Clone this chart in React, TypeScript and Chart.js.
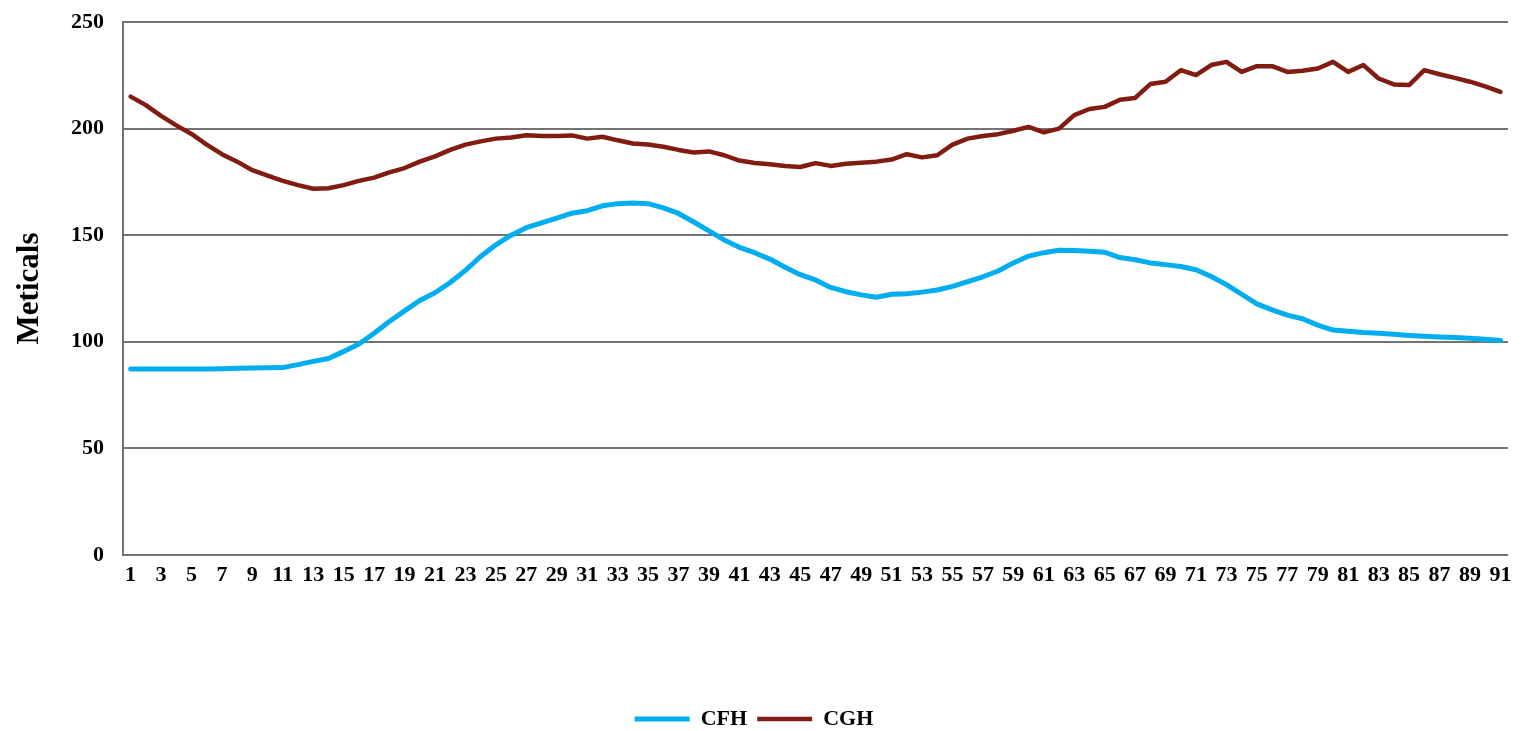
import React, { useEffect, useRef } from "react";
import { Chart, registerables } from "chart.js";

Chart.register(...registerables);

const categories = [
  "1","2","3","4","5","6","7","8","9","10","11","12","13","14","15","16","17","18","19","20",
  "21","22","23","24","25","26","27","28","29","30","31","32","33","34","35","36","37","38","39","40",
  "41","42","43","44","45","46","47","48","49","50","51","52","53","54","55","56","57","58","59","60",
  "61","62","63","64","65","66","67","68","69","70","71","72","73","74","75","76","77","78","79","80",
  "81","82","83","84","85","86","87","88","89","90","91"
];

const cfhValues = [
  87.2, 87.2, 87.2, 87.2, 87.3, 87.3, 87.4, 87.6, 87.7, 87.8,
  87.9, 89.3, 90.8, 92.2, 95.5, 99.0, 104.0, 109.5, 114.5, 119.4,
  123.0, 127.8, 133.5, 140.0, 145.5, 150.0, 153.5, 155.8, 158.0, 160.3,
  161.5, 163.8, 164.8, 165.1, 164.8, 162.8, 160.2, 156.2, 152.0, 147.8,
  144.3, 141.8, 138.8, 135.0, 131.5, 129.0, 125.5, 123.5, 122.0, 120.9,
  122.3, 122.5, 123.3, 124.3, 126.0, 128.2, 130.5, 133.2, 137.0, 140.2,
  141.8, 142.9, 142.8, 142.5, 142.0, 139.5, 138.5, 137.0, 136.2, 135.3,
  133.8, 130.6, 126.8, 122.3, 117.8, 115.0, 112.5, 110.8, 107.8, 105.5,
  105.0, 104.4, 104.0, 103.5, 103.0, 102.6, 102.3, 102.0, 101.7, 101.2,
  100.6
];

const cghValues = [
  215.0, 211.0, 206.0, 201.5, 197.5, 192.5, 188.0, 184.5, 180.5, 178.0,
  175.5, 173.5, 171.8, 172.0, 173.5, 175.5, 177.0, 179.5, 181.5, 184.5,
  187.0, 190.0, 192.5, 194.0, 195.3, 195.8, 196.9, 196.5, 196.5, 196.8,
  195.3, 196.2, 194.5, 193.0, 192.5, 191.5, 190.0, 188.8, 189.3, 187.5,
  185.0, 183.9, 183.3, 182.5, 182.0, 183.8, 182.5, 183.5, 184.0, 184.5,
  185.5, 188.0, 186.5, 187.5, 192.5, 195.3, 196.5, 197.4, 199.0, 200.8,
  198.2, 200.0, 206.3, 209.2, 210.2, 213.5, 214.4, 220.9, 222.0, 227.4,
  225.1, 229.8, 231.3, 226.6, 229.3, 229.3, 226.6, 227.1, 228.2, 231.3,
  226.6, 229.8, 223.5, 220.7, 220.4, 227.4, 225.5, 223.8, 222.0, 219.8,
  217.2
];

const yMin = 0;
const yMax = 250;
const yStep = 50;

const FONT = '"Liberation Serif", "Times New Roman", serif';

export default function App() {
  const canvasRef = useRef<HTMLCanvasElement | null>(null);

  useEffect(() => {
    if (!canvasRef.current) return;
    const chart = new Chart(canvasRef.current, {
      type: "line",
      data: {
        labels: categories,
        datasets: [
          {
            label: "CFH",
            data: cfhValues,
            borderColor: "#00AEEF",
            backgroundColor: "#00AEEF",
            borderWidth: 5,
            pointRadius: 0,
            pointHoverRadius: 0,
            pointStyle: "line",
            tension: 0,
            borderCapStyle: "round",
            borderJoinStyle: "round",
          },
          {
            label: "CGH",
            data: cghValues,
            borderColor: "#801C12",
            backgroundColor: "#801C12",
            borderWidth: 4.5,
            pointRadius: 0,
            pointHoverRadius: 0,
            pointStyle: "line",
            tension: 0,
            borderCapStyle: "round",
            borderJoinStyle: "round",
          },
        ],
      },
      options: {
        animation: false,
        responsive: true,
        maintainAspectRatio: false,
        layout: { padding: { top: 22, right: 15, left: 0, bottom: -9 } },
        plugins: {
          legend: {
            position: "bottom",
            labels: {
              usePointStyle: true,
              pointStyleWidth: 55,
              color: "#000",
              padding: 10,
              font: { family: FONT, weight: "bold", size: 22 },
            },
          },
          tooltip: { enabled: false },
        },
        scales: {
          x: {
            offset: true,
            grid: { display: false, drawTicks: false },
            border: { display: false },
            ticks: {
              autoSkip: false,
              maxRotation: 0,
              minRotation: 0,
              padding: 7,
              color: "#000",
              font: { family: FONT, weight: "bold", size: 22 },
              callback: (_v: any, i: number) => (i % 2 === 0 ? categories[i] : ""),
            },
            afterFit: (s: any) => {
              s.height = 143;
            },
          },
          y: {
            min: yMin,
            max: yMax,
            ticks: {
              stepSize: yStep,
              padding: 19,
              color: "#000",
              font: { family: FONT, weight: "bold", size: 22 },
            },
            grid: { color: "#737373", lineWidth: 2, drawTicks: false },
            border: { display: true, color: "#737373", width: 2 },
            title: {
              display: true,
              text: "Meticals",
              color: "#000",
              font: { family: FONT, weight: "bold", size: 31 },
              padding: { top: 11, bottom: 0 },
            },
            afterFit: (s: any) => {
              s.width = 123;
              s.paddingTop = 0;
              s.paddingBottom = 0;
            },
          },
        },
      },
    });
    return () => chart.destroy();
  }, []);

  return (
    <div
      style={{
        position: "fixed",
        left: 0,
        top: 0,
        width: 1523,
        height: 731,
        background: "#fff",
      }}
    >
      <canvas ref={canvasRef} />
    </div>
  );
}
